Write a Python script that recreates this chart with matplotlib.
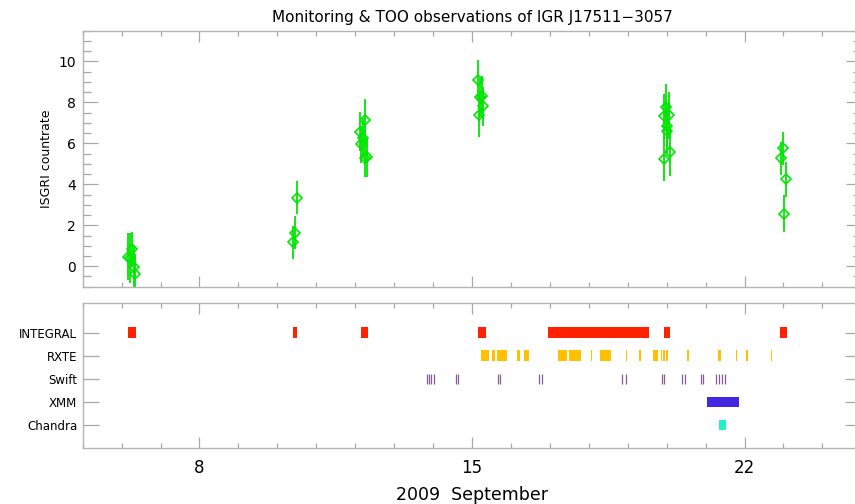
import matplotlib
matplotlib.use('Agg')
import matplotlib.pyplot as plt
from matplotlib.ticker import MultipleLocator

# ISGRI light curve (days of 2009 September)
isgri_time = [6.17, 6.21, 6.26, 6.33, 6.34,
              10.41, 10.45, 10.50,
              12.12, 12.15, 12.21, 12.25, 12.25, 12.31,
              15.15, 15.18, 15.21, 15.25, 15.29,
              19.93, 19.94, 19.98, 20.00, 20.02, 20.07, 20.09,
              22.94, 22.98, 23.02, 23.06]
isgri_rate = [0.47, 0.40, 0.83, -0.06, -0.39,
              1.16, 1.64, 3.35,
              6.57, 5.95, 6.28, 7.12, 5.30, 5.33,
              9.07, 7.37, 8.26, 8.30, 7.82,
              5.25, 7.33, 7.77, 6.85, 6.60, 7.37, 5.60,
              5.27, 5.76, 2.57, 4.24]
isgri_err = [1.15, 1.20, 0.85, 1.10, 1.00,
             0.80, 0.80, 0.82,
             0.95, 0.90, 0.95, 1.05, 0.95, 0.95,
             1.00, 1.05, 0.95, 1.00, 0.95,
             1.10, 1.10, 1.15, 1.10, 1.10, 1.15, 1.20,
             0.80, 0.80, 0.90, 0.85]

instruments = ['INTEGRAL', 'RXTE', 'Swift', 'XMM', 'Chandra']

# observation windows (start, end) in days
integral_obs = [(6.17, 6.36), (10.39, 10.51), (12.14, 12.34), (15.15, 15.35),
                (16.94, 19.55), (19.92, 20.09), (22.91, 23.10)]
rxte_obs = [(15.23, 15.44), (15.51, 15.60), (15.63, 15.91), (16.16, 16.23),
            (16.34, 16.47), (17.20, 17.43), (17.50, 17.81), (18.05, 18.09),
            (18.29, 18.56), (18.96, 18.99), (19.30, 19.35), (19.65, 19.79),
            (19.85, 19.89), (19.91, 19.95), (19.98, 20.03), (20.53, 20.58),
            (21.33, 21.39), (21.78, 21.81), (22.03, 22.08), (22.68, 22.71)]
swift_obs = [13.84, 13.90, 13.94, 14.02, 14.59, 14.63, 15.66, 15.73,
             16.73, 16.80, 18.86, 18.95, 19.87, 19.94, 20.39, 20.47,
             20.87, 20.94, 21.26, 21.34, 21.43, 21.49]
xmm_obs = [(21.03, 21.87)]
chandra_obs = [(21.35, 21.53)]

green = '#00e600'
spine_col = '#b4b4b4'
tick_col = '#a8a8a8'

W, H = 855.0, 504.0
x0, x1 = 82.7, 861.3

fig = plt.figure(figsize=(8.55, 5.04), dpi=100)
ax1 = fig.add_axes([x0 / W, 1 - 286.7 / H, (x1 - x0) / W, (286.7 - 30.7) / H])
ax2 = fig.add_axes([x0 / W, 1 - 448.3 / H, (x1 - x0) / W, (448.3 - 302.5) / H])

# upper panel: light curve
ax1.errorbar(isgri_time, isgri_rate, yerr=isgri_err, fmt='D', mfc='none',
             mec=green, ecolor=green, ms=5, mew=1.2, elinewidth=1.3,
             capsize=0)
ax1.set_xlim(5, 25)
ax1.set_ylim(-1, 11.5)
ax1.yaxis.set_major_locator(MultipleLocator(2))
ax1.yaxis.set_minor_locator(MultipleLocator(0.5))
ax1.set_xticks([8, 15, 22])
ax1.xaxis.set_minor_locator(MultipleLocator(1))
ax1.set_xticklabels([])
ax1.set_ylabel('ISGRI countrate', fontsize=9)
ax1.set_title('Monitoring & TOO observations of IGR J17511\u22123057',
              fontsize=11, pad=6)

# lower panel: observation coverage
ypos = {name: 5 - i for i, name in enumerate(instruments)}
hgt = 0.46
ax2.broken_barh([(a, b - a) for a, b in integral_obs],
                (ypos['INTEGRAL'] - hgt / 2, hgt), facecolors='#ff2200')
ax2.broken_barh([(a, b - a) for a, b in rxte_obs],
                (ypos['RXTE'] - hgt / 2, hgt), facecolors='#ffc000')
for t in swift_obs:
    ax2.vlines(t, ypos['Swift'] - hgt / 2, ypos['Swift'] + hgt / 2,
               color='#8a5a96', lw=0.9)
ax2.broken_barh([(a, b - a) for a, b in xmm_obs],
                (ypos['XMM'] - hgt / 2, hgt), facecolors='#4228e0')
ax2.broken_barh([(a, b - a) for a, b in chandra_obs],
                (ypos['Chandra'] - hgt / 2, hgt), facecolors='#1ff2c8')
ax2.set_xlim(5, 25)
ax2.set_ylim(0, 6.3)
ax2.set_yticks([ypos[n] for n in instruments])
ax2.set_yticklabels(instruments, fontsize=8.5)
ax2.set_xticks([8, 15, 22])
ax2.xaxis.set_minor_locator(MultipleLocator(1))
ax2.set_xticklabels(['8', '15', '22'], fontsize=12)
ax2.set_xlabel('2009  September', fontsize=12.5, labelpad=6)

for ax in (ax1, ax2):
    for s in ax.spines.values():
        s.set_color(spine_col)
        s.set_linewidth(1.0)
    ax.tick_params(which='both', direction='in', top=True, right=True,
                   color=tick_col, width=0.9)
    ax.tick_params(axis='x', which='major', length=8)
    ax.tick_params(axis='x', which='minor', length=3.6)
    ax.tick_params(axis='x', which='major', pad=8)

ax1.tick_params(axis='y', which='major', length=10.8, labelsize=10, pad=5)
ax1.tick_params(axis='y', which='minor', length=5.8)
ax2.tick_params(axis='y', which='major', length=11.5, pad=4)
ax2.tick_params(axis='y', which='minor', left=False, right=False)

fig.savefig('out.png', dpi=100)
